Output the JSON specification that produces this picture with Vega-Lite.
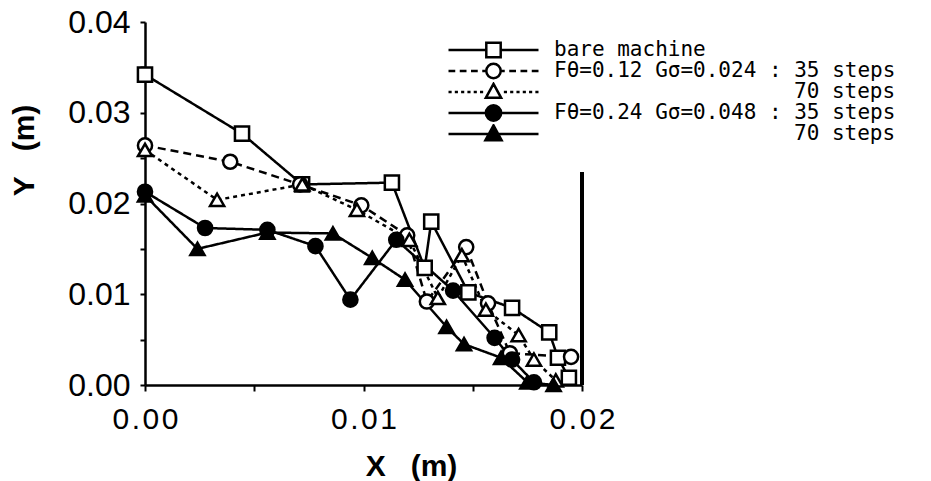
{
  "$schema": "https://vega.github.io/schema/vega-lite/v6.json",
  "width": 437,
  "height": 363,
  "autosize": {"type": "none"},
  "padding": {"left": 145, "top": 22, "right": 349, "bottom": 96},
  "background": "white",
  "config": {
    "view": {"stroke": null},
    "axis": {
      "grid": false,
      "domainColor": "black",
      "domainWidth": 2.5,
      "tickColor": "black",
      "tickWidth": 2,
      "labelColor": "black",
      "titleColor": "black",
      "labelFont": "Liberation Sans",
      "titleFont": "Liberation Sans",
      "titleFontWeight": "bold",
      "titleFontSize": 30
    }
  },
  "data": {
    "values": [
      {"series": "bare", "x": 0.0, "y": 0.0342},
      {"series": "bare", "x": 0.00444, "y": 0.0277},
      {"series": "bare", "x": 0.00719, "y": 0.0221},
      {"series": "bare", "x": 0.0113, "y": 0.0223},
      {"series": "bare", "x": 0.0128, "y": 0.0129},
      {"series": "bare", "x": 0.0131, "y": 0.018},
      {"series": "bare", "x": 0.0148, "y": 0.0102},
      {"series": "bare", "x": 0.0168, "y": 0.0085},
      {"series": "bare", "x": 0.0185, "y": 0.0058},
      {"series": "bare", "x": 0.0189, "y": 0.003},
      {"series": "bare", "x": 0.0194, "y": 0.0008},
      {"series": "F12_35", "x": 0.0, "y": 0.0264},
      {"series": "F12_35", "x": 0.0039, "y": 0.0246},
      {"series": "F12_35", "x": 0.0071, "y": 0.0221},
      {"series": "F12_35", "x": 0.0099, "y": 0.0198},
      {"series": "F12_35", "x": 0.012, "y": 0.0165},
      {"series": "F12_35", "x": 0.0129, "y": 0.0092},
      {"series": "F12_35", "x": 0.0147, "y": 0.0152},
      {"series": "F12_35", "x": 0.0157, "y": 0.009},
      {"series": "F12_35", "x": 0.0167, "y": 0.0035},
      {"series": "F12_35", "x": 0.0195, "y": 0.0031},
      {"series": "F12_70", "x": 0.0, "y": 0.0259},
      {"series": "F12_70", "x": 0.0033, "y": 0.0204},
      {"series": "F12_70", "x": 0.0072, "y": 0.0221},
      {"series": "F12_70", "x": 0.0097, "y": 0.0193},
      {"series": "F12_70", "x": 0.0121, "y": 0.016},
      {"series": "F12_70", "x": 0.0134, "y": 0.0096},
      {"series": "F12_70", "x": 0.0145, "y": 0.0143},
      {"series": "F12_70", "x": 0.0156, "y": 0.0083},
      {"series": "F12_70", "x": 0.0171, "y": 0.0055},
      {"series": "F12_70", "x": 0.0178, "y": 0.0028},
      {"series": "F12_70", "x": 0.0188, "y": 0.0005},
      {"series": "F24_35", "x": 0.0, "y": 0.0213},
      {"series": "F24_35", "x": 0.00275, "y": 0.0173},
      {"series": "F24_35", "x": 0.0056, "y": 0.0171},
      {"series": "F24_35", "x": 0.0078, "y": 0.0153},
      {"series": "F24_35", "x": 0.0094, "y": 0.0094},
      {"series": "F24_35", "x": 0.0115, "y": 0.016},
      {"series": "F24_35", "x": 0.0141, "y": 0.0104},
      {"series": "F24_35", "x": 0.016, "y": 0.0052},
      {"series": "F24_35", "x": 0.0168, "y": 0.0028},
      {"series": "F24_35", "x": 0.0178, "y": 0.0003},
      {"series": "F24_70", "x": 0.0, "y": 0.0209},
      {"series": "F24_70", "x": 0.0024, "y": 0.015},
      {"series": "F24_70", "x": 0.0056, "y": 0.0168},
      {"series": "F24_70", "x": 0.0086, "y": 0.0167},
      {"series": "F24_70", "x": 0.0104, "y": 0.014},
      {"series": "F24_70", "x": 0.0119, "y": 0.0116},
      {"series": "F24_70", "x": 0.0138, "y": 0.0064},
      {"series": "F24_70", "x": 0.0146, "y": 0.0045},
      {"series": "F24_70", "x": 0.0163, "y": 0.003},
      {"series": "F24_70", "x": 0.0175, "y": 0.0003},
      {"series": "F24_70", "x": 0.0187, "y": 0.0}
    ]
  },
  "encoding": {
    "x": {
      "field": "x", "type": "quantitative",
      "scale": {"domain": [0, 0.02], "nice": false, "zero": false},
      "axis": {
        "title": "X\u00a0\u00a0\u00a0(m)",
        "values": [0, 0.005, 0.01, 0.015, 0.02],
        "labelExpr": "abs(datum.value*100 - round(datum.value*100)) < 0.001 ? join(split(format(datum.value, '.2f'), ''), '\u200a') : ''",
        "labelFontSize": 30,
        "tickSize": 6,
        "labelPadding": 13,
        "labelOverlap": false,
        "labelFlush": false,
        "titleX": 266,
        "titleY": 81,
        "titleBaseline": "middle",
        "titleAlign": "center"
      }
    },
    "y": {
      "field": "y", "type": "quantitative",
      "scale": {"domain": [0, 0.04], "nice": false, "zero": false},
      "axis": {
        "title": "Y\u00a0\u00a0\u00a0(m)",
        "values": [0, 0.005, 0.01, 0.015, 0.02, 0.025, 0.03, 0.035, 0.04],
        "labelExpr": "abs(datum.value*100 - round(datum.value*100)) < 0.001 ? format(datum.value, '.2f') : ''",
        "labelFontSize": 32,
        "tickSize": 5,
        "labelPadding": 10,
        "labelOverlap": false,
        "labelFlush": false,
        "titleX": -121,
        "titleY": 128,
        "titleAngle": -90,
        "titleBaseline": "middle",
        "titleAlign": "center"
      }
    }
  },
  "resolve": {"scale": {"shape": "independent"}, "legend": {"shape": "independent"}},
  "layer": [
    {
      "mark": {"type": "rule", "color": "black", "strokeWidth": 2.5},
      "encoding": {
        "x": {"datum": 0.02, "type": "quantitative"},
        "y": {"datum": 0, "type": "quantitative"},
        "y2": {"datum": 0.0234}
      }
    },
    {
      "mark": {"type": "line", "color": "black", "strokeWidth": 2.5},
      "encoding": {
        "detail": {"field": "series"},
        "strokeDash": {
          "field": "series", "type": "nominal",
          "scale": {
            "domain": ["F12_35", "F12_70", "F24_35", "F24_70", "bare"],
            "range": [[8, 5], [4, 4], [1, 0], [1, 0], [1, 0]]
          },
          "legend": null
        }
      }
    },
    {
      "mark": {
        "type": "point", "stroke": "black", "strokeWidth": 2.5, "size": 200, "opacity": 1, "filled": false,
        "fill": {"expr": "datum.series=='F24_35' || datum.series=='F24_70' ? 'black' : 'white'"}
      },
      "encoding": {
        "shape": {
          "field": "series", "type": "nominal",
          "scale": {
            "domain": ["F12_35", "F12_70", "F24_35", "F24_70", "bare"],
            "range": ["circle", "triangle-up", "circle", "triangle-up", "square"]
          },
          "legend": null
        }
      }
    },
    {
      "mark": {
        "type": "point", "stroke": "black", "strokeWidth": 2.5, "opacity": 0, "filled": false,
        "fill": {"expr": "datum.series=='F24_35' || datum.series=='F24_70' ? 'black' : 'white'"}
      },
      "encoding": {
        "shape": {
          "field": "series", "type": "nominal",
          "scale": {
            "domain": ["bare", "F12_35", "F12_70", "F24_35", "F24_70"],
            "range": [
              "M-1,0H-0.16M0.16,0H1M-0.16,-0.16H0.16V0.16H-0.16Z",
              "M-1,0H-0.85M-0.75,0H-0.6M-0.5,0H-0.35M-0.25,0H-0.16M0.16,0H0.25M0.35,0H0.5M0.6,0H0.75M0.85,0H1M0.16,0A0.16,0.16,0,1,1,-0.16,0A0.16,0.16,0,1,1,0.16,0Z",
              "M-1,0H-0.93M-0.86,0H-0.79M-0.72,0H-0.65M-0.58,0H-0.51M-0.44,0H-0.37M-0.3,0H-0.23M0.23,0H0.3M0.37,0H0.44M0.51,0H0.58M0.65,0H0.72M0.79,0H0.86M0.93,0H1M0,-0.18L0.17,0.13H-0.17Z",
              "M-1,0H1M0.17,0A0.17,0.17,0,1,1,-0.17,0A0.17,0.17,0,1,1,0.17,0Z",
              "M-1,0H1M0,-0.19L0.18,0.14H-0.18Z"
            ]
          },
          "legend": {
            "title": null,
            "orient": "none",
            "legendX": 302,
            "legendY": 18,
            "padding": 0,
            "rowPadding": 0,
            "clipHeight": 20,
            "symbolSize": 8100,
            "symbolStrokeWidth": 2.5,
            "symbolStrokeColor": "black",
            "symbolFillColor": "white",
            "symbolOpacity": 1,
            "labelOffset": 14,
            "labelFont": "DejaVu Sans Mono",
            "labelFontSize": 21,
            "labelColor": "black",
            "labelLimit": 600,
            "labelExpr": "datum.label=='bare' ? 'bare machine' : datum.label=='F12_35' ? 'Fθ=0.12 Gσ=0.024 : 35 steps' : datum.label=='F24_35' ? 'Fθ=0.24 Gσ=0.048 : 35 steps' : '70 steps'",
            "encoding": {
              "symbols": {
                "fill": {"value": {"expr": "datum.value=='F24_35' || datum.value=='F24_70' ? 'black' : 'white'"}},
                "stroke": {"value": "black"},
                "strokeWidth": {"value": 2.5},
                "opacity": {"value": 1}
              },
              "labels": {
                "dx": {"value": {"expr": "datum.value=='F12_70' || datum.value=='F24_70' ? 240 : 0"}}
              }
            }
          }
        }
      }
    }
  ]
}
